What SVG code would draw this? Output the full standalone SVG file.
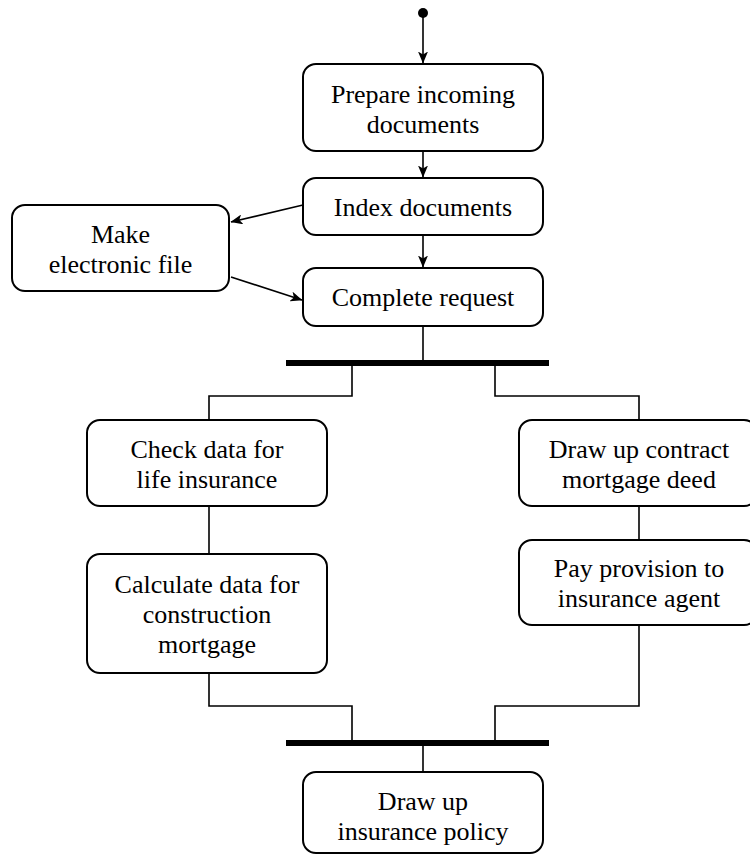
<svg xmlns="http://www.w3.org/2000/svg" width="750" height="855" viewBox="0 0 750 855">
  <style>
    .box { fill: #fff; stroke: #000; stroke-width: 2; }
    .lbl { font-family: "Liberation Serif", "Times New Roman", serif; font-size: 26px; fill: #000; text-anchor: middle; }
    .conn { fill: none; stroke: #000; stroke-width: 1.6; }
    .arr { marker-end: url(#ah); }
    .bar { fill: #000; }
  </style>
  <defs>
    <marker id="ah" viewBox="0 0 12 10" refX="11.5" refY="5" markerWidth="12" markerHeight="10" markerUnits="userSpaceOnUse" orient="auto">
      <path d="M0,0 L12,5 L0,10 L3,5 z" fill="#000"/>
    </marker>
  </defs>
  <rect width="750" height="855" fill="#fff"/>

  <g id="connectors">
    <line class="conn arr" x1="423" y1="16" x2="423" y2="63"/>
    <line class="conn arr" x1="423" y1="151" x2="423" y2="177"/>
    <line class="conn arr" x1="303" y1="205" x2="231" y2="222"/>
    <line class="conn arr" x1="231" y1="277" x2="302" y2="300"/>
    <line class="conn arr" x1="423" y1="235" x2="423" y2="267"/>
    <line class="conn" x1="423" y1="326" x2="423" y2="360"/>
    <polyline class="conn" points="352,366 352,396 209,396 209,420"/>
    <polyline class="conn" points="495,366 495,396 639,396 639,420"/>
    <line class="conn" x1="209" y1="506" x2="209" y2="554"/>
    <line class="conn" x1="639" y1="506" x2="639" y2="540"/>
    <polyline class="conn" points="209,673 209,706 352,706 352,740"/>
    <polyline class="conn" points="639,625 639,706 495,706 495,740"/>
    <line class="conn" x1="423" y1="746" x2="423" y2="772"/>
  </g>

  <g id="start">
    <circle cx="423" cy="13" r="5" fill="#000"/>
  </g>

  <g id="prepare">
    <rect class="box" x="303" y="64" width="240" height="87" rx="13"/>
    <text class="lbl" x="423" y="103">Prepare incoming</text>
    <text class="lbl" x="423" y="133">documents</text>
  </g>

  <g id="index">
    <rect class="box" x="303" y="178" width="240" height="57" rx="13"/>
    <text class="lbl" x="423" y="216">Index documents</text>
  </g>

  <g id="make">
    <rect class="box" x="12" y="205" width="217" height="86" rx="13"/>
    <text class="lbl" x="120.5" y="243">Make</text>
    <text class="lbl" x="120.5" y="273">electronic file</text>
  </g>

  <g id="complete">
    <rect class="box" x="303" y="268" width="240" height="58" rx="13"/>
    <text class="lbl" x="423" y="306">Complete request</text>
  </g>

  <g id="fork">
    <rect class="bar" x="286" y="360" width="263" height="6"/>
  </g>

  <g id="check">
    <rect class="box" x="87" y="420" width="240" height="86" rx="13"/>
    <text class="lbl" x="207" y="458">Check data for</text>
    <text class="lbl" x="207" y="488">life insurance</text>
  </g>

  <g id="calculate">
    <rect class="box" x="87" y="554" width="240" height="119" rx="13"/>
    <text class="lbl" x="207" y="593">Calculate data for</text>
    <text class="lbl" x="207" y="623">construction</text>
    <text class="lbl" x="207" y="653">mortgage</text>
  </g>

  <g id="contract">
    <rect class="box" x="519" y="420" width="238" height="86" rx="13"/>
    <text class="lbl" x="639" y="458">Draw up contract</text>
    <text class="lbl" x="639" y="488">mortgage deed</text>
  </g>

  <g id="pay">
    <rect class="box" x="519" y="540" width="238" height="85" rx="13"/>
    <text class="lbl" x="639" y="577">Pay provision to</text>
    <text class="lbl" x="639" y="607">insurance agent</text>
  </g>

  <g id="join">
    <rect class="bar" x="286" y="740" width="263" height="6"/>
  </g>

  <g id="policy">
    <rect class="box" x="303" y="772" width="240" height="81" rx="13"/>
    <text class="lbl" x="423" y="810">Draw up</text>
    <text class="lbl" x="423" y="840">insurance policy</text>
  </g>
</svg>
